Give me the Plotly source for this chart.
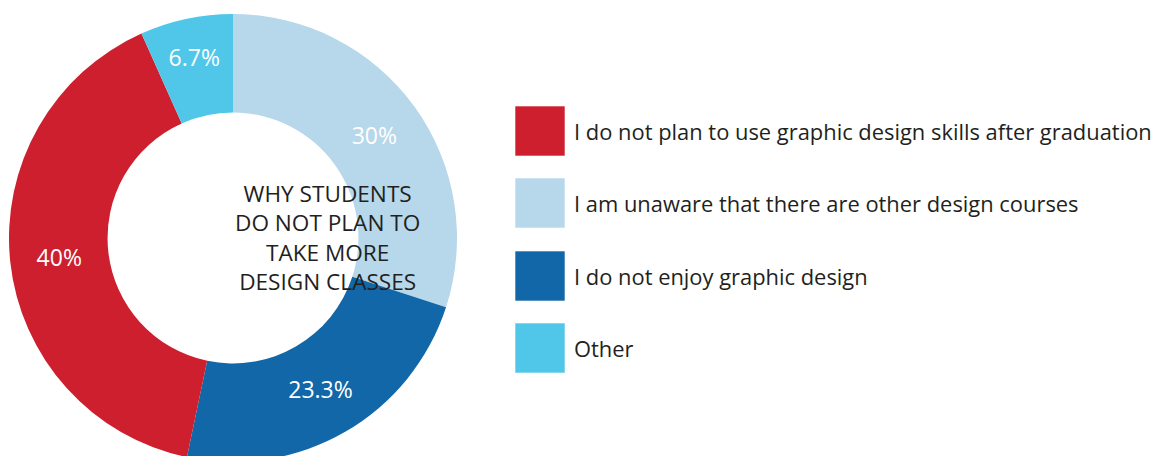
import plotly.graph_objects as go

# Survey results: reasons students give for not taking more design classes
reasons = [
    "I do not plan to use graphic design skills after graduation",
    "I am unaware that there are other design courses",
    "I do not enjoy graphic design",
    "Other",
]
shares = [40, 30, 23.3, 6.7]
share_labels = ["40%", "30%", "23.3%", "6.7%"]
colors = ["#CE1F2F", "#B7D7EB", "#1167A7", "#50C7E9"]
center_title = "WHY STUDENTS<br>DO NOT PLAN TO<br>TAKE MORE<br>DESIGN CLASSES"

W, H = 1165, 470
FONT = "Open Sans"
INK = "#231F20"


def px(x):
    return x / W


def py(y):
    return 1 - y / H


# Ring order going clockwise from 12 o'clock: light blue, dark blue, red, cyan
ring_order = [1, 2, 0, 3]

fig = go.Figure()
fig.add_trace(go.Pie(
    labels=[reasons[i] for i in ring_order],
    values=[shares[i] for i in ring_order],
    text=[share_labels[i] for i in ring_order],
    marker=dict(colors=[colors[i] for i in ring_order],
                line=dict(color="white", width=0)),
    hole=0.56,
    sort=False,
    direction="clockwise",
    rotation=0,
    textinfo="text",
    textposition="inside",
    insidetextorientation="horizontal",
    textfont=dict(family=FONT, size=23, color="white"),
    showlegend=False,
    hoverinfo="label+percent",
    domain=dict(x=[px(9), px(457)], y=[py(462), py(14)]),
))

# Title in the hole of the donut
fig.add_annotation(
    x=px(233), y=py(238), xref="paper", yref="paper",
    text=center_title, showarrow=False, align="center",
    font=dict(family=FONT, size=22.6, color=INK),
)

# Legend drawn as large swatches with labels
row_top = [106, 178, 251, 323]
sw = 50
for i, name in enumerate(reasons):
    y0 = row_top[i]
    fig.add_shape(
        type="rect", xref="paper", yref="paper",
        x0=px(515), x1=px(515 + sw), y0=py(y0 + sw), y1=py(y0),
        fillcolor=colors[i], line=dict(color="rgba(255,255,255,0.6)", width=1),
    )
    fig.add_annotation(
        x=px(572), y=py(y0 + sw / 2), xref="paper", yref="paper",
        text=name, showarrow=False, xanchor="left", yanchor="middle",
        font=dict(family=FONT, size=21.9, color=INK),
    )

fig.update_layout(
    width=W, height=H,
    margin=dict(l=0, r=0, t=0, b=0),
    paper_bgcolor="white", plot_bgcolor="white",
    uniformtext=dict(minsize=23, mode="show"),
)

fig.write_html(
    "out.html",
    post_script="document.documentElement.style.overflow='hidden';document.body.style.overflow='hidden';",
)
